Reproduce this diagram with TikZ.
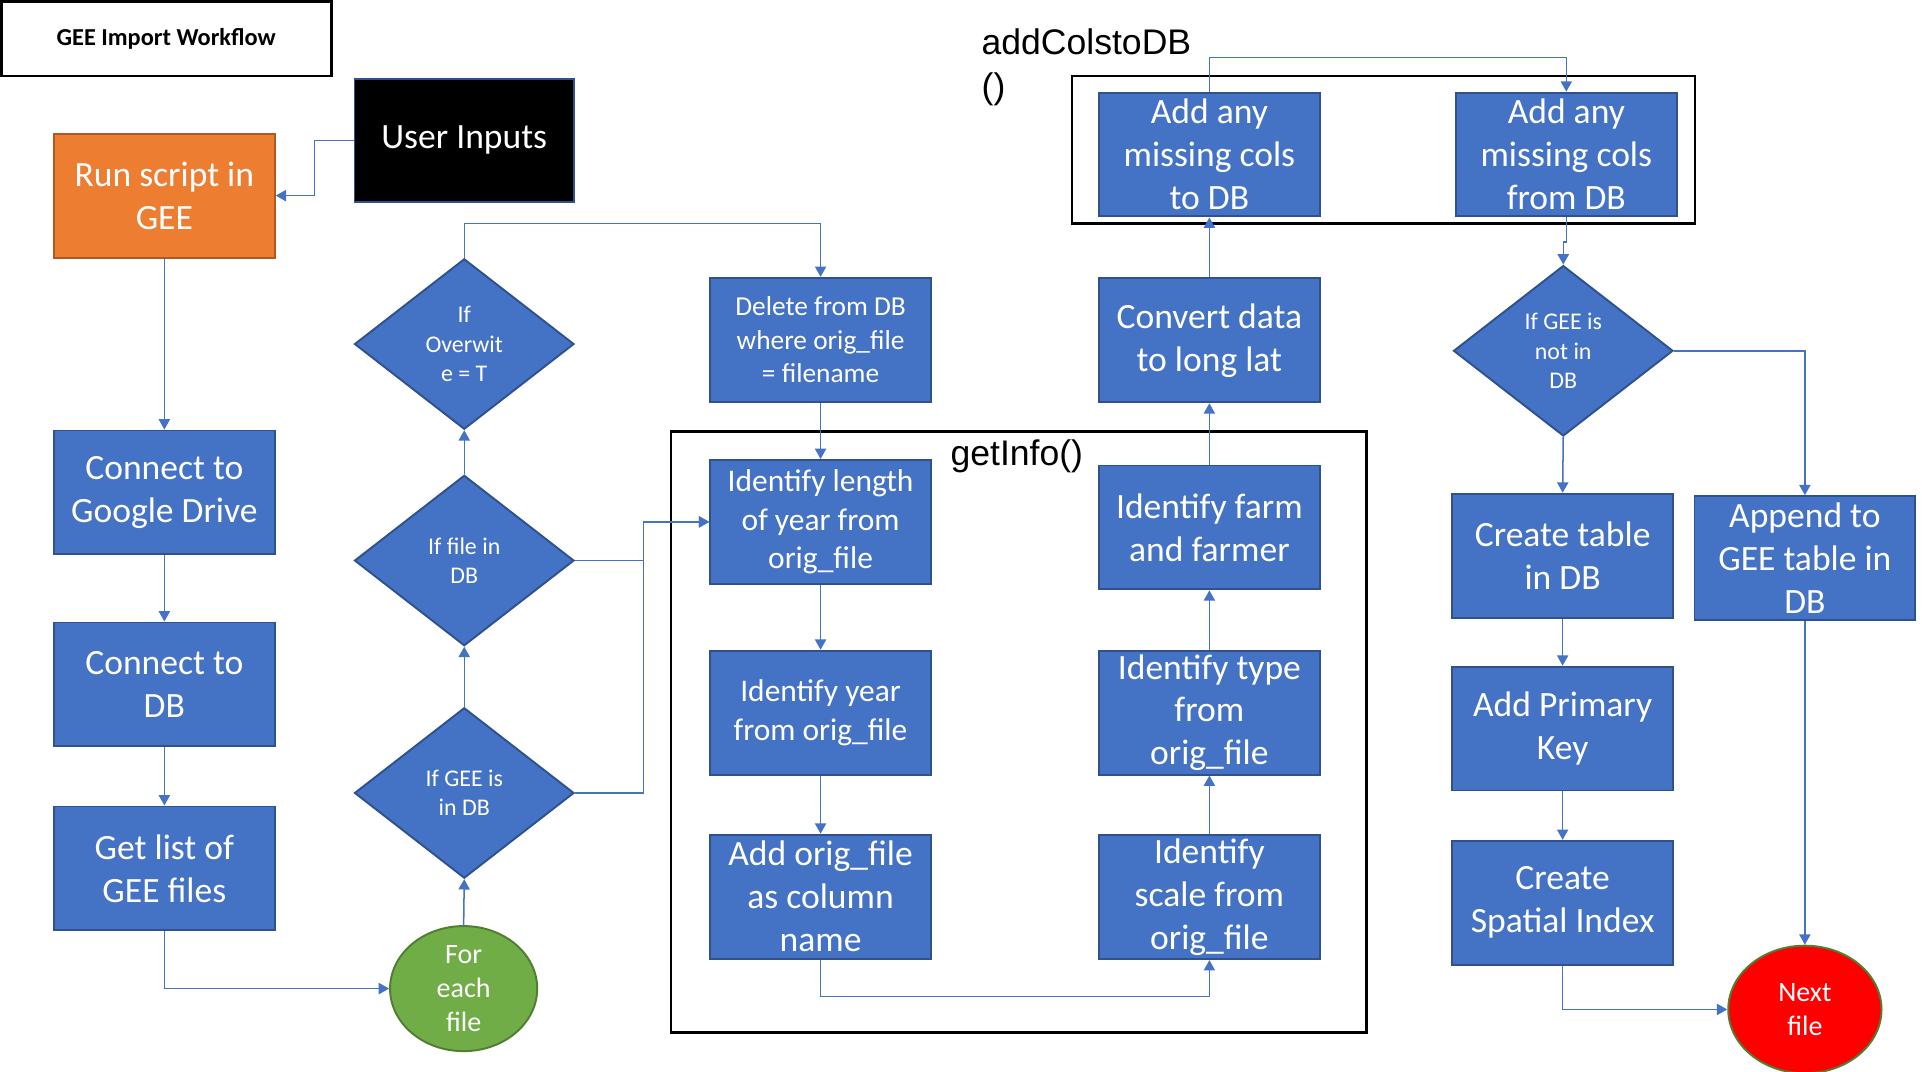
\documentclass[tikz,border=0pt]{standalone}
\usepackage{fontspec}
\setmainfont{Carlito}
\newfontfamily\arialf{Liberation Sans}
\usetikzlibrary{shapes.geometric,arrows.meta}
\definecolor{bfill}{HTML}{4472C4}
\definecolor{bline}{HTML}{2F528F}
\definecolor{cline}{HTML}{4472C4}
\definecolor{ofill}{HTML}{ED7D31}
\definecolor{oline}{HTML}{AE5A21}
\definecolor{gfill}{HTML}{70AD47}
\definecolor{gline}{HTML}{507E32}
\begin{document}
\begin{tikzpicture}[x=0.02cm,y=-0.02cm,
  blk/.style={draw=bline, fill=bfill, line width=0.9pt, minimum width=3.6cm, minimum height=2.02cm,
    inner sep=0pt, align=center, text=white, font=\fontsize{16.5}{19.9}\selectfont},
  smallblk/.style={blk, font=\fontsize{14.6}{17.9}\selectfont},
  tinyblk/.style={blk, font=\fontsize{12.7}{15.6}\selectfont},
  dia/.style={diamond, draw=bline, fill=bfill, line width=0.9pt, minimum width=3.58cm, minimum height=2.78cm,
    inner sep=0pt, align=center, text=white, font=\fontsize{11.1}{13.7}\selectfont},
  circ/.style={ellipse, line width=0.9pt, inner sep=0pt, align=center, text=white,
    font=\fontsize{13}{15.6}\selectfont},
  frame/.style={draw=black, line width=1.3pt, fill=none, inner sep=0pt},
  lbl/.style={inner sep=0pt, font=\arialf\fontsize{16.5}{20.5}\selectfont},
  conn/.style={draw=cline, line width=0.7pt, -{Triangle[length=4.8pt,width=5.2pt]}}
]
\useasboundingbox (0,0) rectangle (1567,874);

% title
\node[draw=black, line width=1.3pt, minimum width=5.38cm, minimum height=1.22cm, inner sep=0pt,
  font=\bfseries\fontsize{11.3}{13.6}\selectfont] (title) at (135.5,31.5) {GEE Import Workflow};

% frames
\node[frame, minimum width=11.34cm, minimum height=9.8cm] (getinfoframe) at (830.5,597) {};
\node[lbl] (getinfolbl) at (829,372) {getInfo()};
\node[frame, minimum width=10.16cm, minimum height=2.4cm] (addcolsframe) at (1128,122) {};
\node[lbl, anchor=west, align=left] (addcolslbl) at (800,55) {addColstoDB\\()};

% left column
\node[blk, fill=ofill, draw=oline] (run) at (134,159.5) {Run script in\\GEE};
\node[blk, fill=black, draw=bline, minimum width=3.58cm, minimum height=2.0cm] (user) at (378.5,114.5) {User Inputs};
\node[blk] (cgd) at (134,401.5) {Connect to\\Google Drive};
\node[blk] (cdb) at (134,558) {Connect to\\DB};
\node[blk] (list) at (134,708) {Get list of\\GEE files};

% diamonds column
\node[dia] (ow) at (378.5,280.5) {If\\Overwit\\e = T};
\node[dia] (fdb) at (378.5,457) {If file in\\DB};
\node[dia] (gee) at (378.5,646.5) {If GEE is\\in DB};
\node[circ, fill=gfill, draw=gline, minimum width=2.4cm, minimum height=2.04cm] (each) at (378,806) {For\\each\\file};

% getInfo column A
\node[tinyblk] (del) at (669,277) {Delete from DB\\where orig\_file\\= filename};
\node[smallblk] (len) at (669,425.5) {Identify length\\of year from\\orig\_file};
\node[smallblk] (year) at (669,581) {Identify year\\from orig\_file};
\node[blk] (add) at (669,731) {Add orig\_file\\as column\\name};

% getInfo column B
\node[blk] (farm) at (986,430) {Identify farm\\and farmer};
\node[blk] (type) at (986,581) {Identify type\\from\\orig\_file};
\node[blk] (scale) at (986,731.5) {Identify\\scale from\\orig\_file};
\node[blk] (conv) at (986,277.5) {Convert data\\to long lat};

% addColstoDB
\node[blk] (todb) at (986,126) {Add any\\missing cols\\to DB};
\node[blk] (fromdb) at (1277,126) {Add any\\missing cols\\from DB};

% right part
\node[dia] (notin) at (1274.5,286) {If GEE is\\not in\\DB};
\node[blk] (create) at (1274,453) {Create table\\in DB};
\node[blk] (pk) at (1274,594) {Add Primary\\Key};
\node[blk] (spatial) at (1274,736) {Create\\Spatial Index};
\node[blk] (append) at (1471.5,455) {Append to\\GEE table in\\DB};
\node[circ, fill=red, draw=gline, minimum width=2.5cm, minimum height=2.08cm] (next) at (1471.5,823) {Next\\file};

% connectors
\draw[conn] (user.west) -- ++(-32,0) |- (run.east);
\draw[conn] (run.south) -- (cgd.north);
\draw[conn] (cgd.south) -- (cdb.north);
\draw[conn] (cdb.south) -- (list.north);
\draw[conn] (list.south) |- (each.west);
\draw[conn] (each.north) -- (gee.south);
\draw[conn] (gee.north) -- (fdb.south);
\draw[conn] (fdb.north) -- (ow.south);
\draw[conn] (ow.north) -- ++(0,-28) -| (del.north);
\draw[conn] (del.south) -- (len.north);
\draw[conn] (fdb.east) -- ++(56,0) |- (len.west);
\draw[conn] (gee.east) -- ++(56,0) |- (len.west);
\draw[conn] (len.south) -- (year.north);
\draw[conn] (year.south) -- (add.north);
\draw[conn] (add.south) -- ++(0,30) -| (scale.south);
\draw[conn] (scale.north) -- (type.south);
\draw[conn] (type.north) -- (farm.south);
\draw[conn] (farm.north) -- (conv.south);
\draw[conn] (conv.north) -- (todb.south);
\draw[conn] (todb.north) -- ++(0,-28) -| (fromdb.north);
\draw[conn] (fromdb.south) -- ++(0,20) -| (notin.north);
\draw[conn] (notin.south) -- (create.north);
\draw[conn] (notin.east) -| (append.north);
\draw[conn] (create.south) -- (pk.north);
\draw[conn] (pk.south) -- (spatial.north);
\draw[conn] (spatial.south) |- (next.west);
\draw[conn] (append.south) -- (next.north);
\end{tikzpicture}
\end{document}
